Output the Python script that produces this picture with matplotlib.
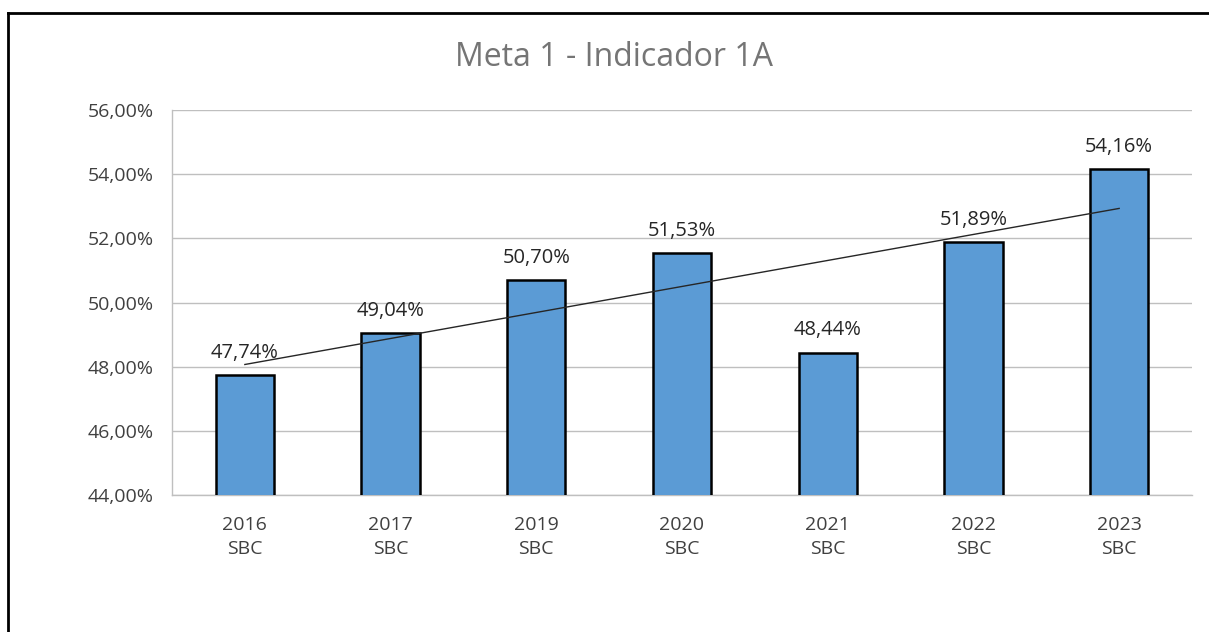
import numpy as np
import matplotlib.pyplot as plt
from matplotlib.lines import Line2D
from matplotlib.ticker import FuncFormatter

plt.rcParams['font.family'] = ['Open Sans', 'DejaVu Sans']

# Data
years = ['2016', '2017', '2019', '2020', '2021', '2022', '2023']
group = 'SBC'
values = [47.74, 49.04, 50.70, 51.53, 48.44, 51.89, 54.16]

W, H = 1209, 632
fig = plt.figure(figsize=(W / 100, H / 100), dpi=100)
ax = fig.add_axes([172 / W, 1 - 495 / H, (1192 - 172) / W, (495 - 110) / H])

x = np.arange(len(years))
ax.bar(x, values, width=0.4, color='#5B9BD5', edgecolor='black', linewidth=1.8, zorder=3)

# linear trendline
slope, intercept = np.polyfit(x, values, 1)
ax.plot(x, slope * x + intercept, color='#262626', linewidth=1, zorder=4)

for xi, v in zip(x, values):
    ax.text(xi, v + 0.38, f'{v:.2f}%'.replace('.', ','), ha='center', va='bottom',
            fontsize=14.5, color='#262626', zorder=5)

ax.set_xlim(-0.5, len(years) - 0.5)
ax.set_ylim(44, 56)
ax.set_yticks(np.arange(44, 57, 2))
ax.yaxis.set_major_formatter(FuncFormatter(lambda v, p: f'{v:.2f}%'.replace('.', ',')))
ax.set_xticks(x)
ax.set_xticklabels([f'{y}\n{group}' for y in years], linespacing=1.45)
ax.tick_params(axis='both', length=0, labelsize=14, colors='#404040')
ax.tick_params(axis='x', pad=15)
ax.tick_params(axis='y', pad=13)
ax.grid(axis='y', color='#BFBFBF', linewidth=1, zorder=0)
for s in ['top', 'right']:
    ax.spines[s].set_visible(False)
for s in ['left', 'bottom']:
    ax.spines[s].set_color('#BFBFBF')
    ax.spines[s].set_linewidth(1)

fig.text(614 / W, 1 - 58 / H, 'Meta 1 - Indicador 1A', ha='center', va='center',
         fontsize=23, color='#757575')

# outer frame (top and left edges visible)
fig.add_artist(Line2D([8 / W, 1], [1 - 13 / H, 1 - 13 / H], color='black', linewidth=2,
                      transform=fig.transFigure))
fig.add_artist(Line2D([8 / W, 8 / W], [0, 1 - 13 / H], color='black', linewidth=2,
                      transform=fig.transFigure))

fig.savefig('out.png', dpi=100)
